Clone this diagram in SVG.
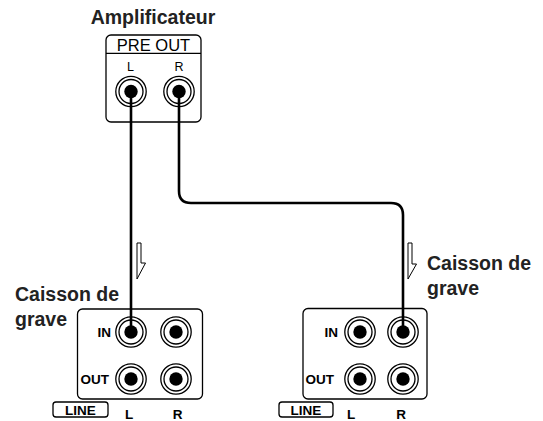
<svg xmlns="http://www.w3.org/2000/svg" width="543" height="421" viewBox="0 0 543 421">
<defs>
<style>
.box{fill:#fff;stroke:#000;stroke-width:1.3}
.ring{fill:none;stroke:#000;stroke-width:1.3}
.dot{fill:#000}
.cable{fill:none;stroke:#000;stroke-width:2.6;stroke-linejoin:round}
.arrow{fill:#fff;stroke:#000;stroke-width:1}
.title{font-family:"Liberation Sans",Arial,sans-serif;font-weight:bold;font-size:19.5px;fill:#222}
.lab{font-family:"Liberation Sans",Arial,sans-serif;font-weight:bold;font-size:13.5px;fill:#000}
.small{font-family:"Liberation Sans",Arial,sans-serif;font-size:12.5px;fill:#000}
.hdr{font-family:"Liberation Sans",Arial,sans-serif;font-size:16.5px;fill:#000}
</style>
<g id="jack">
<circle class="ring" r="15.2"/>
<circle class="ring" r="12"/>
<circle class="dot" r="6.7"/>
</g>
</defs>

<g id="amplifier">
<text class="title" x="153" y="23.5" text-anchor="middle">Amplificateur</text>
<rect class="box" x="106" y="35" width="95" height="87" rx="5"/>
<line x1="106" y1="53.3" x2="201" y2="53.3" stroke="#000" stroke-width="1.3"/>
<text class="hdr" x="153.5" y="50.7" text-anchor="middle">PRE OUT</text>
<text class="small" x="130.5" y="70.5" text-anchor="middle">L</text>
<text class="small" x="179" y="70.5" text-anchor="middle">R</text>
<use href="#jack" x="131" y="91.5"/>
<use href="#jack" x="179" y="91.5"/>
</g>

<g id="subwoofer-left">
<text class="title" x="15" y="301">Caisson de</text>
<text class="title" x="15" y="326">grave</text>
<rect class="box" x="77.5" y="309" width="125" height="90" rx="5"/>
<use href="#jack" x="131" y="332"/>
<use href="#jack" x="176" y="332"/>
<use href="#jack" x="131" y="379"/>
<use href="#jack" x="176" y="379"/>
<text class="lab" x="111" y="337.3" text-anchor="end">IN</text>
<text class="lab" x="109" y="383.5" text-anchor="end">OUT</text>
<rect class="box" x="53" y="402" width="55" height="15" rx="3"/>
<text class="lab" x="80.5" y="415" text-anchor="middle">LINE</text>
<text class="lab" x="129" y="419" text-anchor="middle">L</text>
<text class="lab" x="177.5" y="419" text-anchor="middle">R</text>
</g>

<g id="subwoofer-right">
<text class="title" x="427" y="270">Caisson de</text>
<text class="title" x="427" y="295">grave</text>
<rect class="box" x="303" y="308.5" width="124" height="90.5" rx="5"/>
<use href="#jack" x="360" y="332"/>
<use href="#jack" x="403" y="332"/>
<use href="#jack" x="360" y="379"/>
<use href="#jack" x="403" y="379"/>
<text class="lab" x="338" y="337.3" text-anchor="end">IN</text>
<text class="lab" x="334" y="383.5" text-anchor="end">OUT</text>
<rect class="box" x="279" y="402" width="54" height="15" rx="3"/>
<text class="lab" x="306" y="415" text-anchor="middle">LINE</text>
<text class="lab" x="351" y="419" text-anchor="middle">L</text>
<text class="lab" x="401" y="419" text-anchor="middle">R</text>
</g>

<g id="connectors">
<path class="cable" d="M131,91.5 V332"/>
<path class="cable" d="M179,91.5 V191 Q179,203 191,203 H391 Q403,203 403,215 V332"/>
<polygon class="arrow" points="137,243 141,243 141,263 145.5,263 137,279"/>
<polygon class="arrow" points="408,243 412,243 412,264 416.5,264 408,279"/>
</g>
</svg>
